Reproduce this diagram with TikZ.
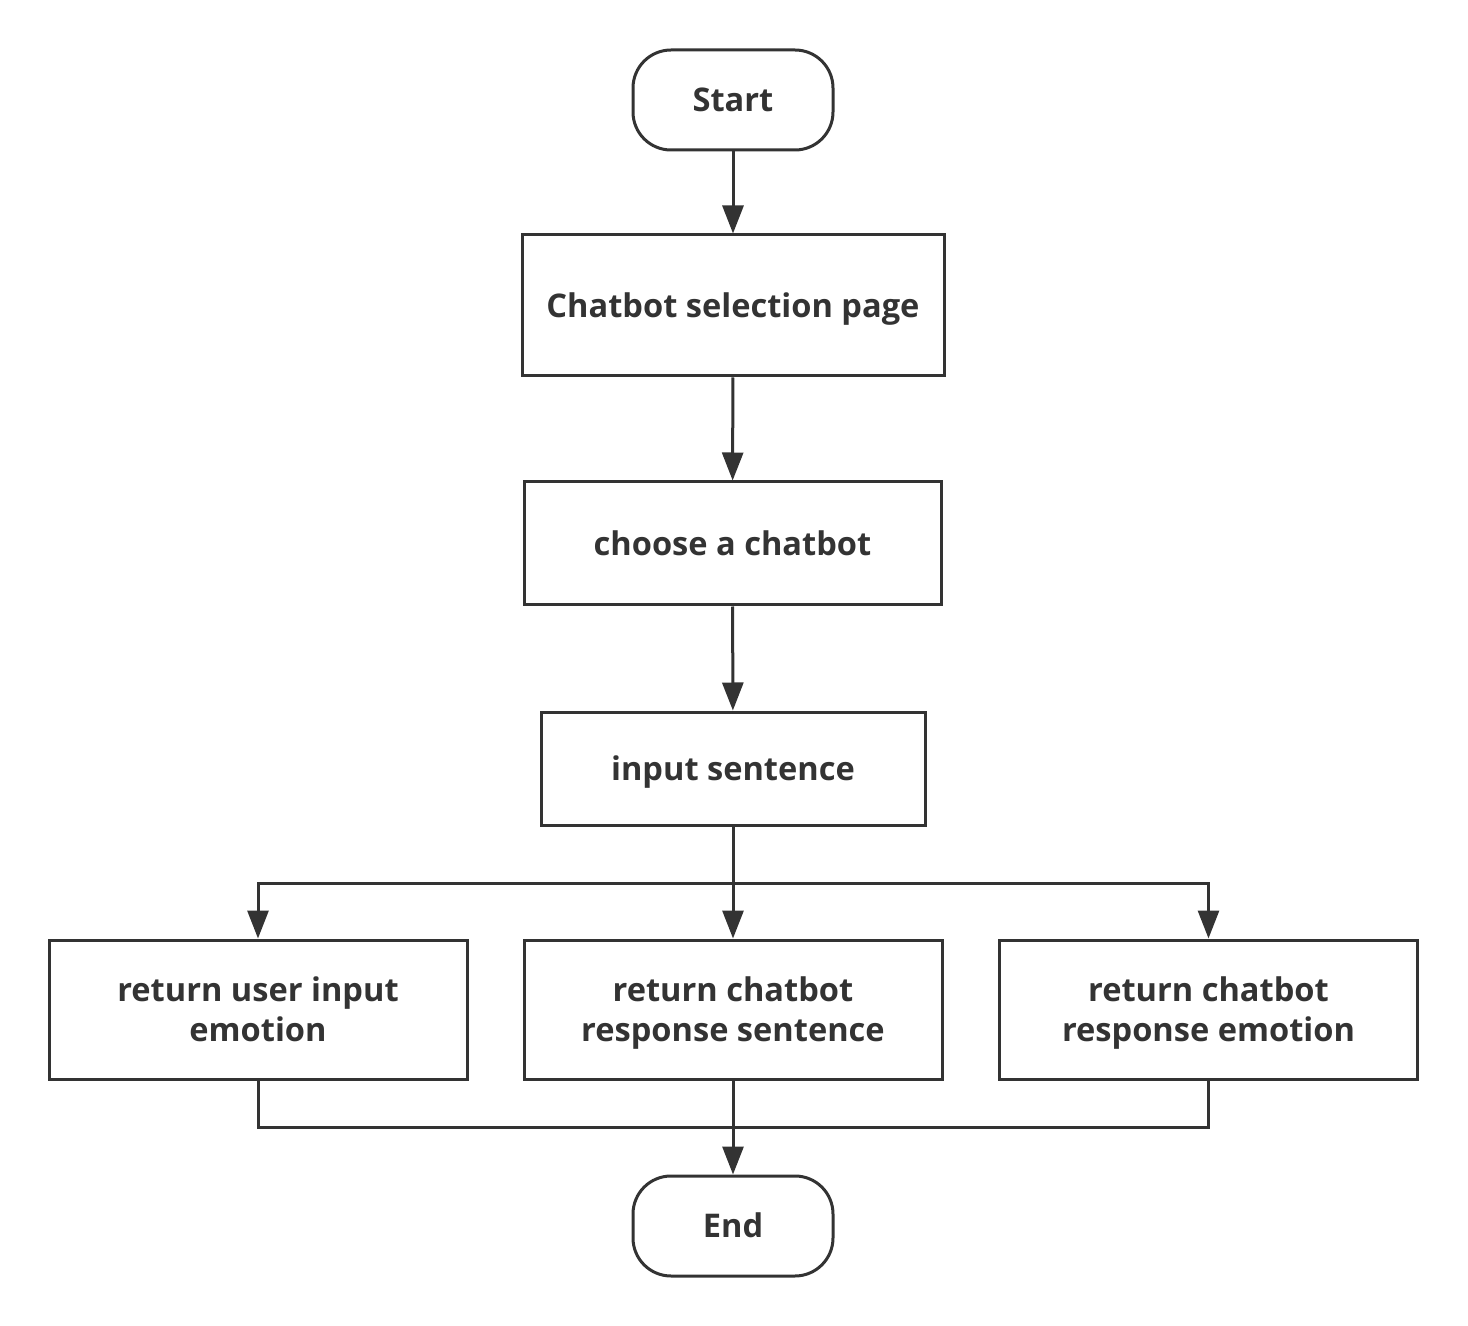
\documentclass[tikz,border=0pt]{standalone}
\usepackage{fontspec}
\setmainfont{Open Sans}
\usetikzlibrary{arrows.meta}
\definecolor{ink}{HTML}{333333}
\newcommand\tx[1]{\raisebox{-1.8pt}[\height][\depth]{\begin{tabular}{@{}c@{}}#1\end{tabular}}}
\begin{document}
\begin{tikzpicture}[x=0.5pt,y=-0.5pt,
  every node/.style={font=\fontsize{16.3pt}{20pt}\selectfont\bfseries, text=ink},
  box/.style={draw=ink, line width=1.5pt, inner sep=0pt},
  term/.style={box, rounded corners=19pt, minimum width=100pt, minimum height=50pt},
  conn/.style={draw=ink, line width=1.5pt},
  arr/.style={conn, -{Triangle[length=14pt,width=10.5pt]}}]
\useasboundingbox (0,0) rectangle (1468,1326);
\node[term] (start) at (733,100) {\tx{Start}};
\node[box, minimum width=211pt, minimum height=70.5pt] (sel) at (733,305.5) {\tx{Chatbot selection page}};
\node[box, minimum width=208.5pt, minimum height=61.5pt] (choose) at (732.5,543.5) {\tx{choose a chatbot}};
\node[box, minimum width=192pt, minimum height=56.5pt] (input) at (733,768.5) {\tx{input sentence}};
\node[box, minimum width=209pt, minimum height=69.5pt] (ret1) at (258,1009.5) {\tx{return user input\\emotion}};
\node[box, minimum width=209pt, minimum height=69.5pt] (ret2) at (733,1009.5) {\tx{return chatbot\\response sentence}};
\node[box, minimum width=209pt, minimum height=69.5pt] (ret3) at (1208.5,1009.5) {\tx{return chatbot\\response emotion}};
\node[term] (end) at (733,1226) {\tx{End}};
\coordinate (split) at (733,883);
\coordinate (merge) at (733,1127);
\draw[arr] (start) -- (sel);
\draw[arr] (sel) -- (choose);
\draw[arr] (choose) -- (input);
\draw[conn] (input) -- (split);
\draw[arr] (split) -- (ret2);
\draw[arr] (split) -| (ret1);
\draw[arr] (split) -| (ret3);
\draw[conn] (ret1) |- (merge);
\draw[conn] (ret3) |- (merge);
\draw[arr] (ret2) -- (end);
\end{tikzpicture}
\end{document}
